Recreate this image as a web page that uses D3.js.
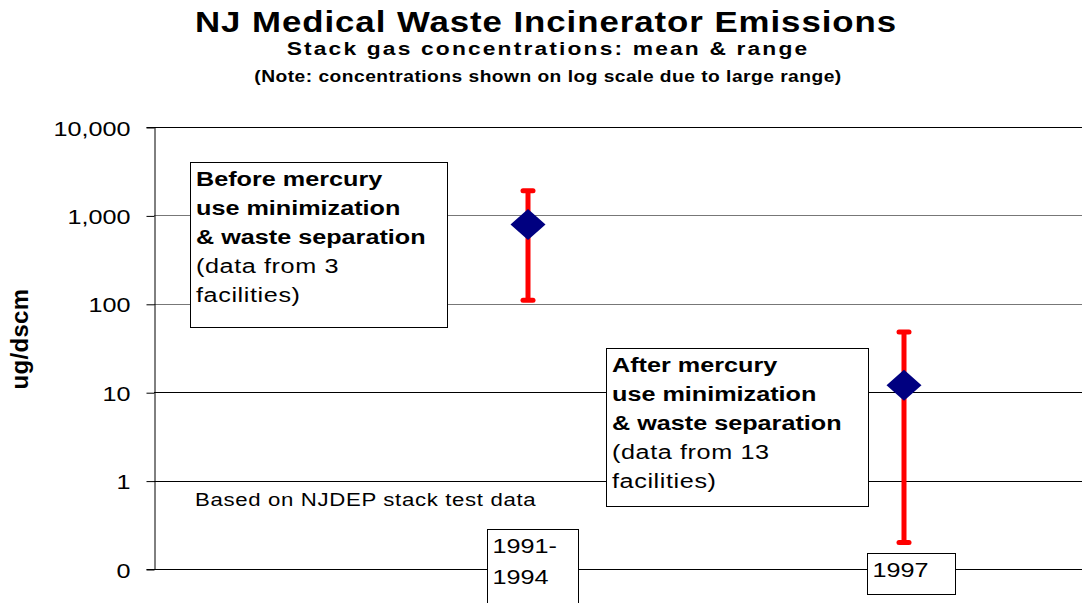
<!DOCTYPE html>
<html>
<head>
<meta charset="utf-8">
<script src="https://cdn.jsdelivr.net/npm/d3@7"></script>
<style>
  body { margin: 0; background: #fff; }
  svg text { font-family: Arial, "Liberation Sans", sans-serif; fill: #000; }
</style>
</head>
<body>
<div id="chart"></div>
<script>
// chart data
const periods = ["1991-1994", "1997"];
const periodLines = [["1991-", "1994"], ["1997"]];
const meanConc = [790, 12];
const minConc = [110, 0.2];
const maxConc = [1900, 48];
const yTicks = [0.1, 1, 10, 100, 1000, 10000];
const notes = [
  { bold: ["Before mercury", "use minimization", "& waste separation"], plain: ["(data from 3", "facilities)"] },
  { bold: ["After mercury", "use minimization", "& waste separation"], plain: ["(data from 13", "facilities)"] }
];

const width = 1082, height = 603;
const margin = { top: 127, right: 0, bottom: 34, left: 154 };
const SX = 1.2; // the original lettering is a little wide

// put a text at (tx, ty) with the wide lettering
function place(sel, tx, ty, extra = "", sx = SX) {
  return sel.attr("x", 0).attr("y", 0)
    .attr("transform", `translate(${tx},${ty})${extra} scale(${sx},1)`);
}

const svg = d3.select("#chart").append("svg")
  .attr("width", width)
  .attr("height", height);

const y = d3.scaleLog()
  .domain([0.1, 10000])
  .range([height - margin.bottom, margin.top]);

const x = d3.scalePoint()
  .domain(periods)
  .range([528, 904]);

// titles
svg.append("text")
  .call(place, 546, 32)
  .attr("text-anchor", "middle")
  .style("font-size", "29px").style("font-weight", "bold").style("letter-spacing", "0.8px")
  .text("NJ Medical Waste Incinerator Emissions");
svg.append("text")
  .call(place, 548, 55)
  .attr("text-anchor", "middle")
  .style("font-size", "19px").style("font-weight", "bold").style("letter-spacing", "1.8px")
  .text("Stack gas concentrations: mean & range");
svg.append("text")
  .call(place, 548, 82)
  .attr("text-anchor", "middle")
  .style("font-size", "16px").style("font-weight", "bold").style("letter-spacing", "0.4px")
  .text("(Note: concentrations shown on log scale due to large range)");

// gridlines
svg.append("g")
  .selectAll("line")
  .data(yTicks)
  .join("line")
  .attr("x1", margin.left).attr("x2", width)
  .attr("y1", d => Math.round(y(d)) + 0.5).attr("y2", d => Math.round(y(d)) + 0.5)
  .attr("stroke", d => (d === 1000 || d === 100) ? "#777" : "#000")
  .attr("stroke-width", 1);

// y axis
const yAxis = svg.append("g")
  .attr("transform", `translate(${margin.left + 0.5},0)`)
  .call(d3.axisLeft(y).tickValues(yTicks).tickFormat(d3.format(",.0f")).tickSize(8).tickPadding(16));
yAxis.select(".domain").attr("stroke", "#000");
yAxis.selectAll(".tick line").attr("stroke", "#000").attr("transform", "translate(0,0.5)");
yAxis.selectAll(".tick text")
  .attr("font-family", null)
  .attr("x", 0)
  .attr("dy", "0.36em")
  .attr("transform", `translate(-24,0.5) scale(${SX},1)`)
  .style("font-size", "21px");

svg.append("text")
  .call(place, 28, 339, " rotate(-90)", 1)
  .attr("text-anchor", "middle")
  .style("font-size", "24px").style("font-weight", "bold").style("letter-spacing", "0.3px")
  .text("ug/dscm");

// note boxes
const noteBoxes = [
  { x: 190.5, y: 162.5, w: 257, h: 165 },
  { x: 606.5, y: 348.5, w: 262, h: 158 }
];
notes.forEach((n, i) => {
  const b = noteBoxes[i];
  const g = svg.append("g");
  g.append("rect")
    .attr("x", b.x).attr("y", b.y).attr("width", b.w).attr("height", b.h)
    .attr("fill", "#fff").attr("stroke", "#000");
  const lines = n.bold.map(t => ({ t, bold: true })).concat(n.plain.map(t => ({ t, bold: false })));
  g.selectAll("text")
    .data(lines)
    .join("text")
    .each(function (d, j) { place(d3.select(this), b.x + 5.5, b.y + 23 + j * 29); })
    .style("font-size", "21px")
    .style("font-weight", d => d.bold ? "bold" : "normal")
    .style("letter-spacing", d => d.bold ? "0px" : "0.5px")
    .text(d => d.t);
});

svg.append("text")
  .call(place, 195, 506)
  .style("font-size", "18.5px").style("letter-spacing", "0.55px")
  .text("Based on NJDEP stack test data");

// category label boxes
const catBoxes = [
  { x: 487.5, y: 529.5, w: 91, h: 90 },
  { x: 867.5, y: 553.5, w: 88, h: 41 }
];
periods.forEach((p, i) => {
  const b = catBoxes[i];
  svg.append("rect")
    .attr("x", b.x).attr("y", b.y).attr("width", b.w).attr("height", b.h)
    .attr("fill", "#fff").attr("stroke", "#000");
  svg.append("g").selectAll("text")
    .data(periodLines[i])
    .join("text")
    .each(function (d, j) { place(d3.select(this), b.x + 5, b.y + 23 + j * 31); })
    .style("font-size", "21px")
    .text(d => d);
});

// range bars
const bars = svg.append("g");
bars.selectAll("line.range")
  .data(periods)
  .join("line")
  .attr("class", "range")
  .attr("x1", d => x(d)).attr("x2", d => x(d))
  .attr("y1", (d, i) => y(minConc[i])).attr("y2", (d, i) => y(maxConc[i]))
  .attr("stroke", "#ff0000").attr("stroke-width", 5);
["min", "max"].forEach(k => {
  const vals = k === "min" ? minConc : maxConc;
  bars.selectAll("line.cap-" + k)
    .data(periods)
    .join("line")
    .attr("class", "cap-" + k)
    .attr("x1", d => x(d) - 5).attr("x2", d => x(d) + 5)
    .attr("y1", (d, i) => y(vals[i])).attr("y2", (d, i) => y(vals[i]))
    .attr("stroke", "#ff0000").attr("stroke-width", 5).attr("stroke-linecap", "round");
});

// mean markers
svg.append("g")
  .selectAll("path")
  .data(periods)
  .join("path")
  .attr("transform", (d, i) => `translate(${x(d)},${y(meanConc[i])})`)
  .attr("d", "M0,-15.5L17.5,0L0,15.5L-17.5,0Z")
  .attr("fill", "#000080");
</script>
</body>
</html>
